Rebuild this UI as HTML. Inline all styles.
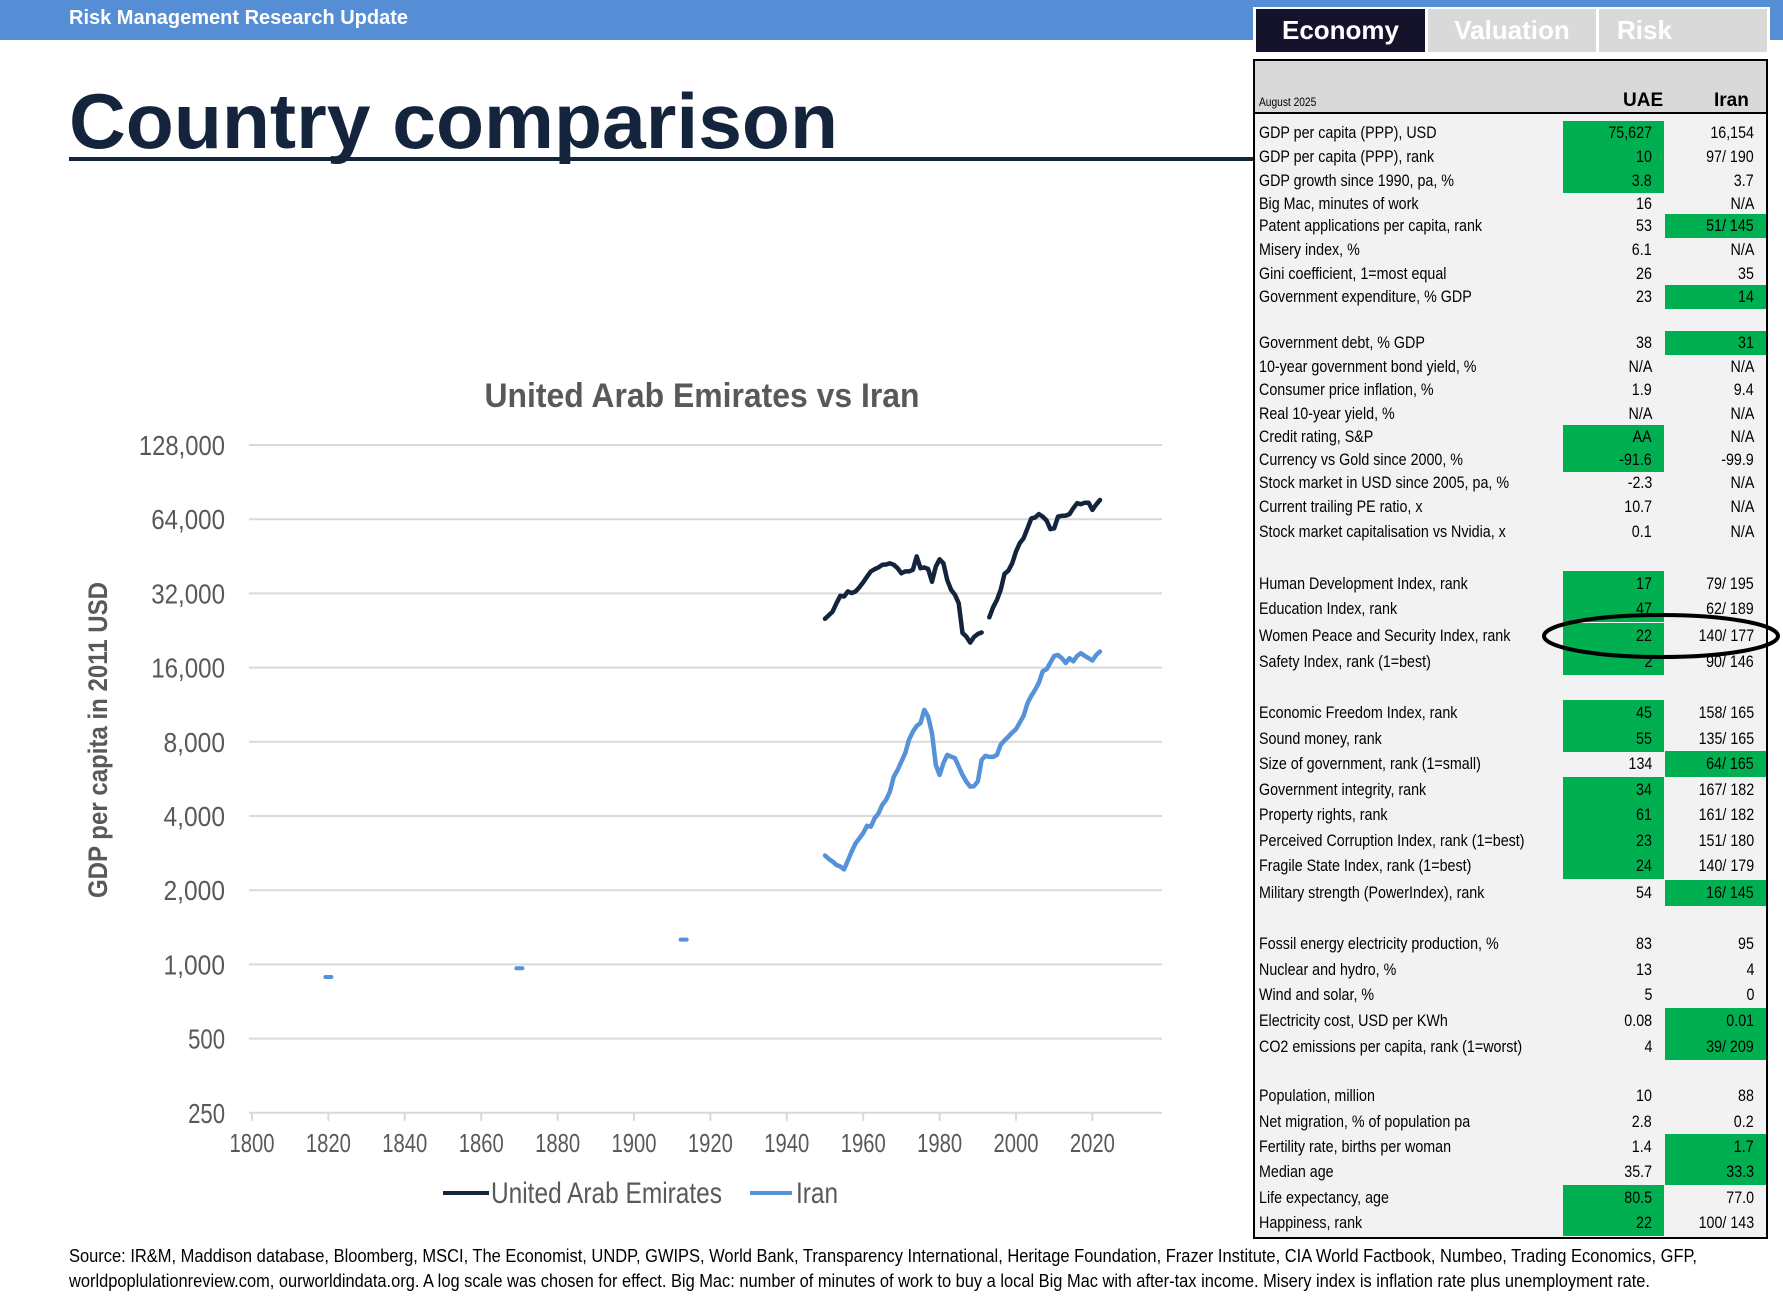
<!DOCTYPE html>
<html><head><meta charset="utf-8">
<style>
html,body{margin:0;padding:0;background:#fff;}
body{width:1783px;height:1303px;position:relative;overflow:hidden;font-family:"Liberation Sans",sans-serif;}
.abs{position:absolute;}
.row{position:absolute;left:1255px;width:511px;}
.lab{position:absolute;left:4px;top:50%;transform:translateY(-50%) scaleX(0.84);transform-origin:left center;font-size:17px;white-space:nowrap;color:#000;}
.cell{position:absolute;top:0;bottom:0;width:101px;}
.cell span{position:absolute;right:12px;top:50%;transform:translateY(-50%) scaleX(0.84);transform-origin:right center;font-size:17px;white-space:nowrap;}
.g{background:#00b050;}
</style></head>
<body>
<div class="abs" style="left:0;top:0;width:1783px;height:40px;background:#558ed5;"></div>
<div class="abs" style="left:69px;top:7px;color:#fff;font-weight:bold;font-size:20px;">Risk Management Research Update</div>

<div class="abs" style="left:1253px;top:7px;width:517px;height:47px;background:#fff;"></div>
<div class="abs" style="left:1256px;top:9px;width:169px;height:43px;background:#14132b;color:#fff;font-weight:bold;font-size:26px;line-height:43px;text-align:center;">Economy</div>
<div class="abs" style="left:1428px;top:9px;width:168px;height:43px;background:#d9d9d9;color:#fff;font-weight:bold;font-size:26px;line-height:43px;text-align:center;">Valuation</div>
<div class="abs" style="left:1599px;top:9px;width:168px;height:43px;background:#d9d9d9;color:#fff;font-weight:bold;font-size:26px;line-height:43px;padding-left:0;"><span style="margin-left:18px">Risk</span></div>

<svg class="abs" style="left:0;top:0" width="1783" height="1303">
  <text x="69" y="148" font-family="Liberation Sans" font-weight="bold" font-size="78" fill="#14243d" textLength="769" lengthAdjust="spacingAndGlyphs">Country comparison</text>
  <rect x="69" y="157" width="1184" height="4" fill="#14243d"/>
  <text x="702" y="407" text-anchor="middle" font-family="Liberation Sans" font-weight="bold" font-size="34" fill="#595959" textLength="435" lengthAdjust="spacingAndGlyphs">United Arab Emirates vs Iran</text>
  <text transform="translate(107,740) rotate(-90)" text-anchor="middle" font-family="Liberation Sans" font-weight="bold" font-size="27" fill="#595959" textLength="316" lengthAdjust="spacingAndGlyphs">GDP per capita in 2011 USD</text>
  <g id="grid"></g>
  <g id="series"></g>
  <line x1="443" y1="1193" x2="489" y2="1193" stroke="#14243d" stroke-width="4"/>
  <text x="491" y="1203" font-family="Liberation Sans" font-size="30" fill="#595959" textLength="231" lengthAdjust="spacingAndGlyphs">United Arab Emirates</text>
  <line x1="750" y1="1193" x2="792" y2="1193" stroke="#5592d8" stroke-width="4"/>
  <text x="796" y="1203" font-family="Liberation Sans" font-size="30" fill="#595959" textLength="42" lengthAdjust="spacingAndGlyphs">Iran</text>
  <text x="69" y="1262" font-family="Liberation Sans" font-size="18" fill="#000" textLength="1628" lengthAdjust="spacingAndGlyphs">Source: IR&amp;M, Maddison database, Bloomberg, MSCI, The Economist, UNDP, GWIPS, World Bank, Transparency International, Heritage Foundation, Frazer Institute, CIA World Factbook, Numbeo, Trading Economics, GFP,</text>
  <text x="69" y="1287" font-family="Liberation Sans" font-size="18" fill="#000" textLength="1581" lengthAdjust="spacingAndGlyphs">worldpoplulationreview.com, ourworldindata.org. A log scale was chosen for effect. Big Mac: number of minutes of work to buy a local Big Mac with after-tax income. Misery index is inflation rate plus unemployment rate.</text>
</svg>

<div class="abs" style="left:1253px;top:59px;width:511px;height:1176px;border:2px solid #000;background:#f2f2f2;"></div>
<div class="abs" style="left:1255px;top:61px;width:511px;height:51px;background:#d9d9d9;border-bottom:2px solid #000;"></div>
<div class="abs" style="left:1259px;top:95px;font-size:12px;transform:scaleX(0.85);transform-origin:left;">August 2025</div>
<div class="abs" style="left:1623px;top:90px;font-size:19px;font-weight:bold;">UAE</div>
<div class="abs" style="left:1714px;top:90px;font-size:19px;font-weight:bold;">Iran</div>
<div id="rows"></div>
<svg class="abs" style="left:1540px;top:610px" width="243" height="55"><ellipse cx="121" cy="26" rx="117" ry="21" fill="none" stroke="#000" stroke-width="4"/></svg>

<script>
// ----- chart data -----
const uaeYears = [1950,1951,1952,1953,1954,1955,1956,1957,1958,1959,1960,1961,1962,1963,1964,1965,1966,1967,1968,1969,1970,1971,1972,1973,1974,1975,1976,1977,1978,1979,1980,1981,1982,1983,1984,1985,1986,1987,1988,1989,1990,1991,1992,1993,1994,1995,1996,1997,1998,1999,2000,2001,2002,2003,2004,2005,2006,2007,2008,2009,2010,2011,2012,2013,2014,2015,2016,2017,2018,2019,2020,2021,2022];
const uaeValues = [25230,26100,27000,29200,31300,31100,32600,32100,32600,33900,35500,37400,39300,40100,40800,41800,41900,42400,41800,40500,38600,39300,39300,39900,45200,40500,40800,40200,35700,41100,44000,42400,36300,33100,31600,29200,22100,21400,20200,21300,21900,22200,null,25600,28100,30100,33100,38400,39600,42400,47300,51200,53600,58800,64500,65000,67100,65600,63200,58300,58800,65600,66000,66200,67100,70900,74300,73600,74700,74700,69800,73400,76600];
const iranYears = [1950,1951,1952,1953,1954,1955,1956,1957,1958,1959,1960,1961,1962,1963,1964,1965,1966,1967,1968,1969,1970,1971,1972,1973,1974,1975,1976,1977,1978,1979,1980,1981,1982,1983,1984,1985,1986,1987,1988,1989,1990,1991,1992,1993,1994,1995,1996,1997,1998,1999,2000,2001,2002,2003,2004,2005,2006,2007,2008,2009,2010,2011,2012,2013,2014,2015,2016,2017,2018,2019,2020,2021,2022];
const iranValues = [2765,2680,2613,2530,2495,2430,2640,2870,3100,3250,3410,3650,3620,3920,4100,4440,4650,5020,5780,6150,6650,7190,8150,8800,9280,9520,10780,10130,8670,6450,5870,6550,7080,6970,6870,6350,5870,5520,5260,5290,5520,6750,7020,6950,6950,7080,7780,8100,8400,8720,9000,9580,10200,11470,12300,13000,13900,15450,15750,16770,17850,18000,17470,16700,17470,16950,17850,18300,17850,17470,17100,18000,18600];
const iranHistYears = [1820,1870,1913];
const iranHistValues = [889,965,1260];
const yTicks = [128000,64000,32000,16000,8000,4000,2000,1000,500,250];
const yTickLabels = ["128,000","64,000","32,000","16,000","8,000","4,000","2,000","1,000","500","250"];
const xTicks = [1800,1820,1840,1860,1880,1900,1920,1940,1960,1980,2000,2020];

const NS = "http://www.w3.org/2000/svg";
const X0 = 249, X1 = 1162;
function xs(yr){ return 252 + 3.82*(yr-1800); }
function ys(v){ return 445 + 74.2*Math.log2(128000/v); }
function mk(tag, attrs, parent){ const e=document.createElementNS(NS,tag); for(const k in attrs) e.setAttribute(k,attrs[k]); parent.appendChild(e); return e; }

const grid = document.getElementById('grid');
yTicks.forEach((v,i)=>{
  const l = mk('line',{x1:X0,x2:X1,y1:ys(v),y2:ys(v),stroke:'#d9d9d9','stroke-width':2},grid);
  
  
  const lab = yTickLabels[i];
  const t = mk('text',{x:225,y:ys(v)+10,'text-anchor':'end','font-family':'Liberation Sans','font-size':28,fill:'#595959',textLength:lab.length*12.3,lengthAdjust:'spacingAndGlyphs'},grid);
  t.textContent = lab;
  
  
});
xTicks.forEach(yr=>{
  const tk = mk('line',{x1:xs(yr),x2:xs(yr),y1:ys(250),y2:ys(250)+8,stroke:'#d9d9d9','stroke-width':2},grid);
  
  
  const t = mk('text',{x:xs(yr),y:1152,'text-anchor':'middle','font-family':'Liberation Sans','font-size':26,fill:'#595959',textLength:45,lengthAdjust:'spacingAndGlyphs'},grid);
  t.textContent = String(yr);
  
  
});

const series = document.getElementById('series');
function drawLine(years, vals, color, name){
  let d='', pen=false;
  years.forEach((yr,i)=>{
    const v = vals[i];
    if(v==null){ pen=false; return; }
    d += (pen?'L':'M') + xs(yr).toFixed(1) + ',' + ys(v).toFixed(1) + ' ';
    pen=true;
  });
  const p = mk('path',{d:d,fill:'none',stroke:color,'stroke-width':4.5,'stroke-linejoin':'round','stroke-linecap':'round'},series);
  
  
}
drawLine(uaeYears, uaeValues, '#14243d', 'uae-line');
drawLine(iranYears, iranValues, '#5592d8', 'iran-line');
iranHistYears.forEach((yr,i)=>{
  const v = iranHistValues[i];
  const m = mk('line',{x1:xs(yr)-3,x2:xs(yr)+3,y1:ys(v),y2:ys(v),stroke:'#5592d8','stroke-width':4,'stroke-linecap':'round'},series);
  
  
});

// ----- table -----
const rows = [
 [133,24,"GDP per capita (PPP), USD","75,627","16,154","u"],
 [157,24,"GDP per capita (PPP), rank","10","97/ 190","u"],
 [181,24,"GDP growth since 1990, pa, %","3.8","3.7","u"],
 [204,24,"Big Mac, minutes of work","16","N/A",""],
 [226,24,"Patent applications per capita, rank","53","51/ 145","i"],
 [250,24,"Misery index, %","6.1","N/A",""],
 [274,24,"Gini coefficient, 1=most equal","26","35",""],
 [297,24,"Government expenditure, % GDP","23","14","i"],
 [343,24,"Government debt, % GDP","38","31","i"],
 [367,24,"10-year government bond yield, %","N/A","N/A",""],
 [390,24,"Consumer price inflation, %","1.9","9.4",""],
 [414,24,"Real 10-year yield, %","N/A","N/A",""],
 [437,24,"Credit rating, S&P","AA","N/A","u"],
 [460,24,"Currency vs Gold since 2000, %","-91.6","-99.9","u"],
 [483,24,"Stock market in USD since 2005, pa, %","-2.3","N/A",""],
 [507,24,"Current trailing PE ratio, x","10.7","N/A",""],
 [532,26,"Stock market capitalisation vs Nvidia, x","0.1","N/A",""],
 [584,26,"Human Development Index, rank","17","79/ 195","u"],
 [609,26,"Education Index, rank","47","62/ 189","u"],
 [636,26,"Women Peace and Security Index, rank","22","140/ 177","u"],
 [662,26,"Safety Index, rank (1=best)","2","90/ 146","u"],
 [713,26,"Economic Freedom Index, rank","45","158/ 165","u"],
 [739,26,"Sound money, rank","55","135/ 165","u"],
 [764,26,"Size of government, rank (1=small)","134","64/ 165","i"],
 [790,26,"Government integrity, rank","34","167/ 182","u"],
 [815,26,"Property rights, rank","61","161/ 182","u"],
 [841,26,"Perceived Corruption Index, rank (1=best)","23","151/ 180","u"],
 [866,26,"Fragile State Index, rank (1=best)","24","140/ 179","u"],
 [893,26,"Military strength (PowerIndex), rank","54","16/ 145","i"],
 [944,26,"Fossil energy electricity production, %","83","95",""],
 [970,26,"Nuclear and hydro, %","13","4",""],
 [995,26,"Wind and solar, %","5","0",""],
 [1021,26,"Electricity cost, USD per KWh","0.08","0.01","i"],
 [1047,26,"CO2 emissions per capita, rank (1=worst)","4","39/ 209","i"],
 [1096,26,"Population, million","10","88",""],
 [1122,26,"Net migration, % of population pa","2.8","0.2",""],
 [1147,26,"Fertility rate, births per woman","1.4","1.7","i"],
 [1172,26,"Median age","35.7","33.3","i"],
 [1198,26,"Life expectancy, age","80.5","77.0","u"],
 [1223,26,"Happiness, rank","22","100/ 143","u"]
];
const host = document.getElementById('rows');
rows.forEach(r=>{
  const [cy,h,label,u,ir,g] = r;
  const row = document.createElement('div');
  row.className='row';
  
  
  row.style.top=(cy-h/2)+'px'; row.style.height=h+'px';
  const l=document.createElement('div'); l.className='lab'; l.textContent=label;
  
  
  row.appendChild(l);
  const c1=document.createElement('div'); c1.className='cell'+(g==='u'?' g':''); c1.style.left='308px';
  
  
  c1.innerHTML='<span></span>'; c1.firstChild.textContent=u;
  const c2=document.createElement('div'); c2.className='cell'+(g==='i'?' g':''); c2.style.left='410px';
  
  
  c2.innerHTML='<span></span>'; c2.firstChild.textContent=ir;
  row.appendChild(c1); row.appendChild(c2);
  host.appendChild(row);
});
</script>
</body></html>
